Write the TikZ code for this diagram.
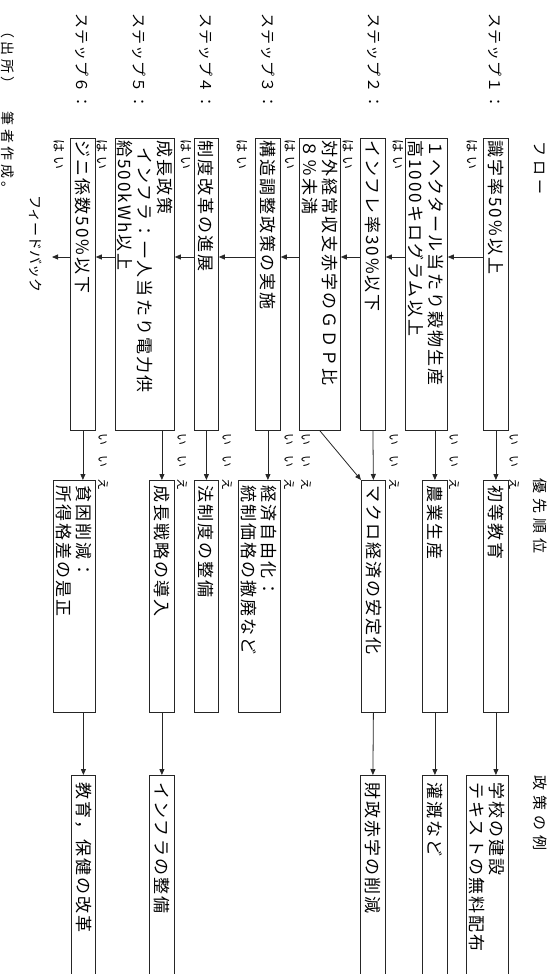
\documentclass[tikz,border=0pt]{standalone}
\usepackage{fontspec}
\setmainfont{Noto Sans CJK JP}
\newfontfamily\jpbox{Noto Sans CJK JP}[LetterSpace=12]
\newfontfamily\jphead{Noto Sans CJK JP}[LetterSpace=34]
\newfontfamily\jpstep{Noto Sans CJK JP}[LetterSpace=8]
\newfontfamily\jpyes{Noto Sans CJK JP}[LetterSpace=30]
\newfontfamily\jpwide{Noto Sans CJK JP}[LetterSpace=88]
\newfontfamily\jpnote{Noto Sans CJK JP}[LetterSpace=25]
\usetikzlibrary{arrows.meta}
\tikzset{
  box/.style={draw=black!85, line width=0.8pt, inner xsep=2pt, inner ysep=0pt,
    anchor=south west, align=left, font=\jpbox\fontsize{17}{20}\selectfont},
  fbox/.style={box, text width=288pt},
  pbox/.style={box, inner xsep=5pt, text width=222pt},
  ebox/.style={box, inner xsep=7pt, text width=201pt},
  lbl/.style={inner sep=0pt, anchor=west},
  head/.style={lbl, font=\jphead\fontsize{15}{17}\selectfont},
  steplbl/.style={lbl, font=\jpstep\fontsize{15}{17}\selectfont},
  yes/.style={lbl, font=\jpyes\fontsize{13}{15}\selectfont},
  no/.style={lbl, font=\jpwide\fontsize{12}{14}\selectfont},
  arr/.style={draw=black!85, line width=0.8pt, -{Triangle[length=6pt,width=5pt]}}
}
\begin{document}
\begin{tikzpicture}[x=1pt,y=1pt,rotate=-90,transform shape]
\useasboundingbox (0,0) rectangle (974,553);
\fill[white] (0,0) rectangle (974,553);
\clip (0,0) rectangle (974,553);

% headers
\node[head] (hflow) at (141,540) {フ\hspace{4pt}ロ\hspace{4pt}ー};
\node[head] (hprio) at (478,540) {優先順位};
\node[head] (hpol) at (775,540) {政策の例};

% step labels
\node[steplbl] (s1) at (13,495) {ステップ１：};
\node[steplbl] (s2) at (13,374) {ステップ２：};
\node[steplbl] (s3) at (13,268) {ステップ３：};
\node[steplbl] (s4) at (13,206) {ステップ４：};
\node[steplbl] (s5) at (13,139) {ステップ５：};
\node[steplbl] (s6) at (13,82) {ステップ６：};

% flow boxes
\node[fbox, minimum height=25pt] (b1) at (138,483) {識字率50\%以上};
\node[fbox, minimum height=42pt] (b2) at (138,405) {１ヘクタール当たり穀物生産\\高1000キログラム以上};
\node[fbox, minimum height=25pt] (b3) at (138,360) {インフレ率30\%以下};
\node[fbox, minimum height=41pt] (b4) at (138,299) {対外経常収支赤字のＧＤＰ比\\８％未満};
\node[fbox, minimum height=25pt] (b5) at (138,255) {構造調整政策の実施};
\node[fbox, minimum height=24pt] (b6) at (138,194) {制度改革の進展};
\node[fbox, minimum height=59pt] (b7) at (138,115) {成長政策\\\hspace{0.4em}インフラ：一人当たり電力供\\給500kWh以上};
\node[fbox, minimum height=25pt] (b8) at (138,70) {ジニ係数50\%以下};

% priority boxes
\node[pbox, minimum height=25pt] (p1) at (480,483) {初等教育};
\node[pbox, minimum height=25pt] (p2) at (480,422) {農業生産};
\node[pbox, minimum height=24pt] (p3) at (480,361) {マクロ経済の安定化};
\node[pbox, minimum height=42pt] (p4) at (480,238) {経済自由化：\\統制価格の撤廃など};
\node[pbox, minimum height=24pt] (p5) at (480,194) {法制度の整備};
\node[pbox, minimum height=25pt] (p6) at (480,149) {成長戦略の導入};
\node[pbox, minimum height=42pt] (p7) at (480,53) {貧困削減：\\所得格差の是正};

% policy boxes
\node[ebox, minimum height=42pt] (e1) at (775,466) {学校の建設\\テキストの無料配布};
\node[ebox, minimum height=25pt] (e2) at (775,422) {灌漑など};
\node[ebox, minimum height=25pt] (e3) at (775,360) {財政赤字の削減};
\node[ebox, minimum height=25pt] (e4) at (775,149) {インフラの整備};
\node[ebox, minimum height=24pt] (e5) at (775,71) {教育，保健の改革};

% yes labels
\node[yes] (y1) at (139,472) {はい};
\node[yes] (y2) at (139,398) {はい};
\node[yes] (y3) at (139,348) {はい};
\node[yes] (y4) at (139,290) {はい};
\node[yes] (y5) at (139,242) {はい};
\node[yes] (y6) at (139,186) {はい};
\node[yes] (y7) at (139,102) {はい};
\node[yes] (y8) at (139,59) {はい};

% no labels
\node[no] (n1) at (433,514) {いいえ};
\node[no] (n2) at (433,454) {いいえ};
\node[no] (n3) at (433,394) {いいえ};
\node[no] (n4) at (433,306) {いいえ};
\node[no] (n5) at (433,289) {いいえ};
\node[no] (n6) at (433,227) {いいえ};
\node[no] (n7) at (433,182) {いいえ};
\node[no] (n8) at (433,103) {いいえ};

% feedback and source
\coordinate (fb) at (257,52);
\node[lbl, font=\fontsize{14}{16}\selectfont] (fbt) at (195,36) {フィードバック};
\node[lbl, font=\jpnote\fontsize{14}{16}\selectfont] (src) at (24,8) {（出所）　筆者作成。};

% flow arrows (yes)
\draw[arr] (257,0 |- b1.south) -- (257,0 |- b2.north);
\draw[arr] (257,0 |- b2.south) -- (257,0 |- b3.north);
\draw[arr] (257,0 |- b3.south) -- (257,0 |- b4.north);
\draw[arr] (257,0 |- b4.south) -- (257,0 |- b5.north);
\draw[arr] (257,0 |- b5.south) -- (257,0 |- b6.north);
\draw[arr] (257,0 |- b6.south) -- (257,0 |- b7.north);
\draw[arr] (257,0 |- b7.south) -- (257,0 |- b8.north);
\draw[arr] (257,0 |- b8.south) -- (fb);

% no arrows
\draw[arr] (b1.east) -- (p1.west);
\draw[arr] (p2.west -| b2.east) -- (p2.west);
\draw[arr] (b3.east) -- (p3.west);
\draw[arr] (b4.east) -- (p3.south west);
\draw[arr] (b5.east) -- (b5.east -| p4.west);
\draw[arr] (b6.east) -- (p5.west);
\draw[arr] (p6.west -| b7.east) -- (p6.west);
\draw[arr] (b8.east) -- (b8.east -| p7.west);

% priority to policy
\draw[arr] (p1.east) -- (p1.east -| e1.west);
\draw[arr] (p2.east) -- (e2.west);
\draw[arr] (p3.east) -- (e3.west);
\draw[arr] (p6.east) -- (e4.west);
\draw[arr] (e5.west -| p7.east) -- (e5.west);
\end{tikzpicture}
\end{document}
